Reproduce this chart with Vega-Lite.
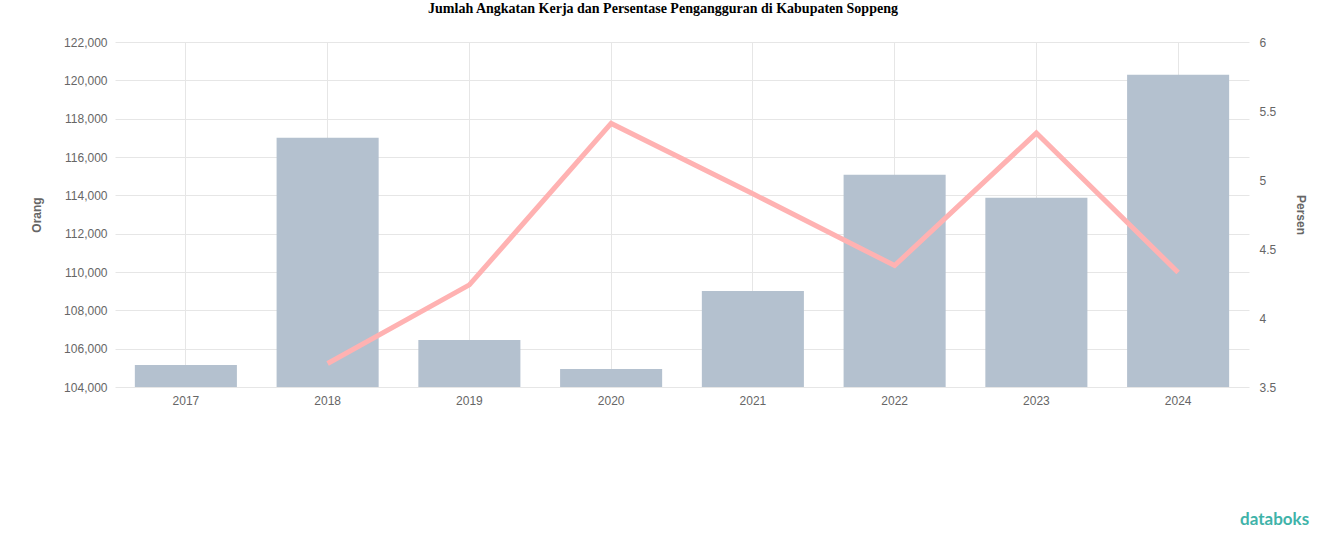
{
  "$schema": "https://vega.github.io/schema/vega-lite/v6.json",
  "width": 1134,
  "height": 345,
  "autosize": {"type": "none"},
  "padding": {"left": 115, "top": 42, "right": 75, "bottom": 160},
  "background": "white",
  "title": {
    "text": "Jumlah Angkatan Kerja dan Persentase Pengangguran di Kabupaten Soppeng",
    "font": "Liberation Serif",
    "fontSize": 14,
    "fontWeight": "bold",
    "color": "#000000",
    "anchor": "middle",
    "frame": "group",
    "offset": 20,
    "dx": -19
  },
  "data": {
    "values": [
      {"tahun": "2017", "angkatan": 105150, "persen": null},
      {"tahun": "2018", "angkatan": 117000, "persen": 3.67},
      {"tahun": "2019", "angkatan": 106450, "persen": 4.24},
      {"tahun": "2020", "angkatan": 104940, "persen": 5.41},
      {"tahun": "2021", "angkatan": 109010, "persen": 4.9},
      {"tahun": "2022", "angkatan": 115070, "persen": 4.38},
      {"tahun": "2023", "angkatan": 113870, "persen": 5.34},
      {"tahun": "2024", "angkatan": 120290, "persen": 4.33}
    ]
  },
  "config": {
    "view": {"stroke": null},
    "font": "Liberation Sans",
    "axis": {
      "labelColor": "#666666",
      "labelFontSize": 12,
      "titleColor": "#666666",
      "titleFontSize": 12,
      "titleFontWeight": "bold",
      "domain": false,
      "ticks": false,
      "gridColor": "#e6e6e6"
    }
  },
  "encoding": {
    "x": {
      "field": "tahun",
      "type": "ordinal",
      "scale": {"paddingInner": 0.28, "paddingOuter": 0.14},
      "axis": {"title": null, "labelAngle": 0, "grid": true, "labelPadding": 8}
    }
  },
  "layer": [
    {
      "layer": [
        {
          "mark": {"type": "bar", "color": "#b4c1cf"},
          "encoding": {
            "y": {
              "field": "angkatan",
              "type": "quantitative",
              "scale": {"domain": [104000, 122000], "zero": false, "nice": false},
              "axis": {
                "title": "Orang",
                "values": [104000, 106000, 108000, 110000, 112000, 114000, 116000, 118000, 120000, 122000],
                "format": ",d",
                "grid": true,
                "labelOverlap": false,
                "labelPadding": 8,
                "titlePadding": 20
              }
            },
            "y2": {"datum": 104000}
          }
        },
        {
          "data": {"values": [{"logo": "databoks", "tahun": "2024", "y": 97050}]},
          "mark": {
            "type": "text",
            "color": "#3fb3a9",
            "fontSize": 17,
            "fontWeight": "bold",
            "font": "Lato",
            "align": "right",
            "baseline": "middle",
            "dx": 131
          },
          "encoding": {
            "text": {"field": "logo"},
            "y": {
              "field": "y",
              "type": "quantitative",
              "scale": {"domain": [104000, 122000], "zero": false, "nice": false},
              "axis": {
                "title": "Orang",
                "values": [104000, 106000, 108000, 110000, 112000, 114000, 116000, 118000, 120000, 122000],
                "format": ",d",
                "grid": true,
                "labelOverlap": false,
                "labelPadding": 8,
                "titlePadding": 20
              }
            }
          }
        }
      ]
    },
    {
      "mark": {"type": "line", "color": "#ffb2b2", "strokeWidth": 5},
      "encoding": {
        "y": {
          "field": "persen",
          "type": "quantitative",
          "scale": {"domain": [3.5, 6], "zero": false, "nice": false},
          "axis": {
            "orient": "right",
            "title": "Persen",
            "values": [3.5, 4, 4.5, 5, 5.5, 6],
            "format": "~g",
            "grid": false,
            "labelPadding": 10,
            "titlePadding": 18
          }
        }
      }
    }
  ],
  "resolve": {"scale": {"y": "independent"}}
}
